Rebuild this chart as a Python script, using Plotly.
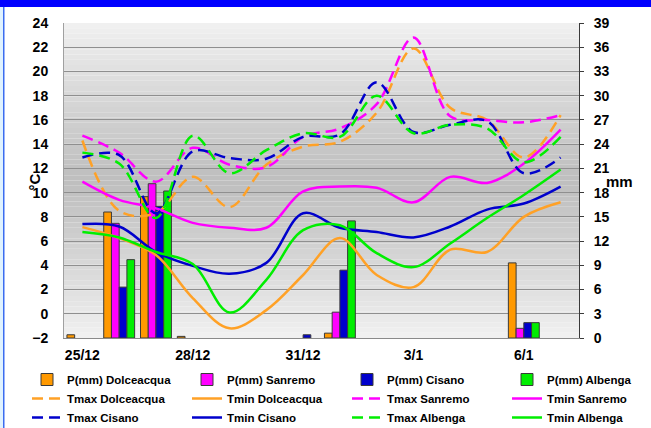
import plotly.graph_objects as go

# ---------------- data ----------------
days = ['25/12', '26/12', '27/12', '28/12', '29/12', '30/12', '31/12',
        '1/1', '2/1', '3/1', '4/1', '5/1', '6/1', '7/1']
tick_labels = ['25/12', '28/12', '31/12', '3/1', '6/1']
temp_ticks = [-2, 0, 2, 4, 6, 8, 10, 12, 14, 16, 18, 20, 22, 24]
mm_ticks = [0, 3, 6, 9, 12, 15, 18, 21, 24, 27, 30, 33, 36, 39]

p_dolceacqua = [0.4, 15.6, 17.5, 0.2, 0, 0, 0, 0.6, 0, 0, 0, 0, 9.3, 0]
p_sanremo = [0, 14.2, 19.1, 0, 0, 0, 0, 3.2, 0, 0, 0, 0, 1.2, 0]
p_cisano = [0, 6.3, 16.3, 0, 0, 0, 0.4, 8.4, 0, 0, 0, 0, 1.9, 0]
p_albenga = [0, 9.7, 18.2, 0, 0, 0, 0, 14.5, 0, 0, 0, 0, 1.9, 0]

tmax_dolceacqua = [14.3, 8.5, 8.3, 11.3, 8.8, 12.3, 13.8, 14.2, 16.6, 21.9, 17.0, 16.0, 12.9, 16.4]
tmin_dolceacqua = [7.15, 6.25, 4.85, 1.3, -1.2, 0.3, 3.2, 6.25, 3.2, 2.2, 5.3, 5.1, 8.0, 9.2]
tmax_sanremo = [14.7, 13.3, 10.9, 13.7, 12.3, 12.1, 14.6, 15.3, 17.3, 22.8, 16.3, 16.0, 15.8, 16.4]
tmin_sanremo = [10.9, 9.4, 8.7, 7.5, 7.1, 7.1, 10.1, 10.5, 10.4, 9.2, 11.3, 10.8, 12.4, 15.2]
tmax_cisano = [12.9, 13.1, 8.3, 13.4, 12.85, 12.8, 14.6, 14.8, 19.1, 15.0, 15.6, 15.9, 11.6, 12.9]
tmin_cisano = [7.4, 7.2, 5.1, 3.95, 3.3, 4.2, 8.3, 7.1, 6.75, 6.3, 7.2, 8.6, 9.1, 10.5]
tmax_albenga = [13.3, 12.4, 7.9, 14.7, 11.6, 13.5, 14.9, 14.6, 18.0, 14.9, 15.6, 15.3, 12.5, 14.6]
tmin_albenga = [6.75, 6.3, 5.1, 4.1, 0.1, 2.8, 6.9, 7.3, 5.0, 3.85, 5.8, 7.9, 9.8, 11.9]

# ---------------- styles ----------------
ORANGE = '#ff9900'
ORANGE_L = '#ffa126'
MAGENTA = '#ff00ff'
BLUE = '#0000cc'
GREEN = '#00ee00'
FONT = 'Liberation Sans, Arial, sans-serif'
DASH = '11px,6px'
LW = 2.5

fig = go.Figure()

bars = [
    ('P(mm) Dolceacqua', p_dolceacqua, ORANGE, 'legend'),
    ('P(mm) Sanremo', p_sanremo, MAGENTA, 'legend2'),
    ('P(mm) Cisano', p_cisano, BLUE, 'legend3'),
    ('P(mm) Albenga', p_albenga, GREEN, 'legend4'),
]
for name, vals, col, lg in bars:
    shown = [v if v > 0 else None for v in vals]  # no bar drawn for dry days
    fig.add_trace(go.Bar(x=days, y=shown, name=name, yaxis='y', legend=lg,
                         marker=dict(color=col, line=dict(color='#3a3a3a', width=1))))

lines = [
    ('Tmax Dolceacqua', tmax_dolceacqua, ORANGE_L, DASH, 'legend'),
    ('Tmin Dolceacqua', tmin_dolceacqua, ORANGE_L, 'solid', 'legend2'),
    ('Tmax Sanremo', tmax_sanremo, MAGENTA, DASH, 'legend3'),
    ('Tmin Sanremo', tmin_sanremo, MAGENTA, 'solid', 'legend4'),
    ('Tmax Cisano', tmax_cisano, BLUE, DASH, 'legend'),
    ('Tmin Cisano', tmin_cisano, BLUE, 'solid', 'legend2'),
    ('Tmax Albenga', tmax_albenga, GREEN, DASH, 'legend3'),
    ('Tmin Albenga', tmin_albenga, GREEN, 'solid', 'legend4'),
]
for name, vals, col, dash, lg in lines:
    fig.add_trace(go.Scatter(x=days, y=vals, name=name, yaxis='y2', mode='lines', legend=lg,
                             line=dict(color=col, width=LW, dash=dash, shape='spline', smoothing=1)))

# gradient background for the plot area
shapes = []
N = 60
for i in range(N):
    t = (i + 0.5) / N
    v = int(round(190 + (241 - 190) * abs(2 * t - 1) ** 1.1))
    shapes.append(dict(type='rect', xref='paper', yref='paper', x0=0, x1=1,
                       y0=i / N, y1=(i + 1) / N, fillcolor=f'rgb({v},{v},{v})',
                       line=dict(width=0), layer='below'))
# blue frame (top band + left edge)
W, H = 651, 428
L, R, T, B = 64, 72, 23, 90
pw, ph = W - L - R, H - T - B
def px(x):
    return (x - L) / pw
def py(y):
    return (H - B - y) / ph
shapes.append(dict(type='rect', xref='paper', yref='paper', x0=px(0), x1=px(W), y0=py(7), y1=py(0),
                   fillcolor='#0000ff', line=dict(width=0), layer='above'))
shapes.append(dict(type='rect', xref='paper', yref='paper', x0=px(0), x1=px(3), y0=py(H), y1=py(7),
                   fillcolor='#dff2ff', line=dict(width=0), layer='above'))
shapes.append(dict(type='rect', xref='paper', yref='paper', x0=px(3), x1=px(4.5), y0=py(H), y1=py(7),
                   fillcolor='#3a6cf0', line=dict(width=0), layer='above'))

tickfont = dict(family=FONT, size=14, color='#000000', weight='bold')
legfont = dict(family=FONT, size=11.5, color='#000000', weight='bold')

legend_common = dict(orientation='v', xanchor='left', yanchor='top', y=py(365),
                     bgcolor='rgba(0,0,0,0)', font=legfont, traceorder='normal',
                     itemwidth=30)

fig.update_layout(
    width=W, height=H,
    margin=dict(l=L, r=R, t=T, b=B, autoexpand=False),
    paper_bgcolor='#ffffff', plot_bgcolor='rgba(0,0,0,0)',
    barmode='group', bargap=0.16, bargroupgap=0,
    showlegend=True,
    legend=dict(legend_common, x=px(27)),
    legend2=dict(legend_common, x=px(187)),
    legend3=dict(legend_common, x=px(347)),
    legend4=dict(legend_common, x=px(507)),
    xaxis=dict(type='category', tickmode='array', tickvals=tick_labels, ticktext=tick_labels,
               showgrid=False, showline=True, linecolor='#8a8a8a', linewidth=1,
               ticks='', tickfont=tickfont, ticklabelstandoff=4, zeroline=False),
    yaxis=dict(range=[0, 39], tickmode='array', tickvals=mm_ticks, side='right',
               showgrid=True, gridcolor='#8f8f8f', gridwidth=1,
               showline=True, linecolor='#3a3a3a', linewidth=1,
               ticks='outside', ticklen=4, tickcolor='#3a3a3a',
               tickfont=tickfont, ticklabelstandoff=7, zeroline=False),
    yaxis2=dict(range=[-2, 24], tickmode='array', tickvals=temp_ticks, side='left',
                overlaying='y', showgrid=False, showline=True, linecolor='#a0a0a0',
                ticks='', tickfont=tickfont, ticklabelstandoff=12, zeroline=False),
    shapes=shapes,
    annotations=[
        dict(text='°C', xref='paper', yref='paper', x=px(23), y=py(182), showarrow=False,
             textangle=-90, font=dict(family=FONT, size=15, color='#000', weight='bold')),
        dict(text='mm', xref='paper', yref='paper', x=px(635), y=py(181), showarrow=False,
             font=dict(family=FONT, size=15, color='#000', weight='bold')),
    ],
)

fig.write_html('out.html', config={'displayModeBar': False},
               post_script="document.body.style.margin='0';document.body.style.overflow='hidden';")
